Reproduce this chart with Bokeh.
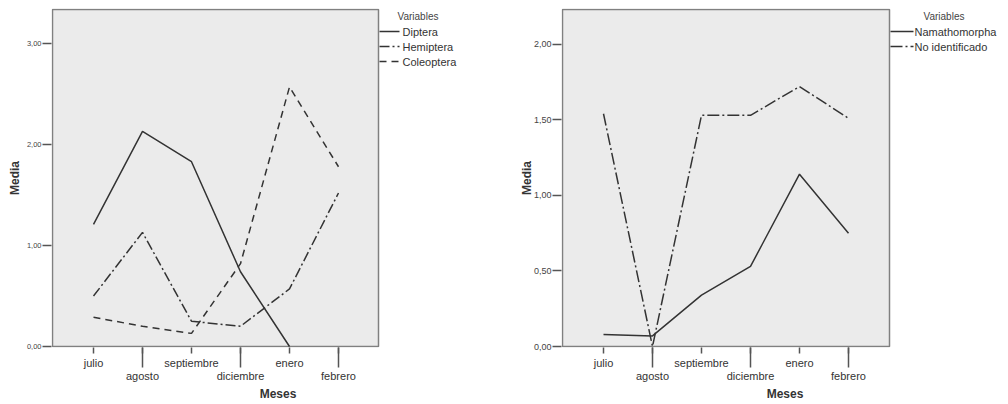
from bokeh.plotting import figure
from bokeh.layouts import row
from bokeh.models import Range1d, FixedTicker, Label, Arrow
from bokeh.embed import file_html
from bokeh.resources import INLINE

# ---------------- data ----------------
meses = ["julio", "agosto", "septiembre", "diciembre", "enero", "febrero"]

diptera = [1.21, 2.13, 1.83, 0.74, 0.00, float("nan")]
hemiptera = [0.50, 1.13, 0.25, 0.20, 0.57, 1.52]
coleoptera = [0.29, 0.20, 0.13, 0.82, 2.57, 1.78]

namathomorpha = [0.08, 0.07, 0.34, 0.53, 1.14, 0.75]
no_identificado = [1.54, 0.00, 1.53, 1.53, 1.72, 1.51]

left_yticks = [0, 1, 2, 3]
left_ylabels = ["0,00", "1,00", "2,00", "3,00"]
right_yticks = [0, 0.5, 1.0, 1.5, 2.0]
right_ylabels = ["0,00", "0,50", "1,00", "1,50", "2,00"]

left_series = [("Diptera", diptera, "solid"),
               ("Hemiptera", hemiptera, "10 3 2 3"),
               ("Coleoptera", coleoptera, "7 5")]
right_series = [("Namathomorpha", namathomorpha, "solid"),
                ("No identificado", no_identificado, "12 3 2 3")]

# ---------------- style / layout ----------------
FONT = "Liberation Sans"
LINE_COL = "#333333"
TEXT_COL = "#333333"
CAT_PX = 49.0      # pixels between categories
FIRST_PX = 41.0    # pixels from box left edge to first category
BOX_H = 337        # plot box height in px
PAD = 1            # frame padding around the plot box


def make_chart(width, box_left, box_w, ymax, yticks, ylabels, ytick_size,
               ylabel_standoff, series, line_end_px, text_px, title_px):
    frame_left = box_left - PAD
    frame_w = width - frame_left
    ppy = BOX_H / ymax

    def dx(px):  # px measured from box left edge
        return (px - FIRST_PX) / CAT_PX

    def dy(px):  # px measured up from box bottom edge
        return px / ppy

    p = figure(width=width, height=404,
               x_range=Range1d(dx(-PAD), dx(-PAD + frame_w)),
               y_range=Range1d(dy(-PAD), dy(BOX_H + PAD)),
               output_backend="svg", toolbar_location=None,
               min_border_left=frame_left, min_border_right=0,
               min_border_top=9 - PAD, min_border_bottom=404 - 346 - PAD,
               background_fill_color="white", border_fill_color="white",
               outline_line_color=None)
    p.grid.visible = False

    # grey plot box
    p.quad(left=dx(0), right=dx(box_w), bottom=0, top=ymax,
           fill_color="#ebebeb", line_color="#808080", line_width=1.5)

    xs = list(range(len(meses)))
    for name, vals, dash in series:
        p.line(xs, vals, line_color=LINE_COL, line_width=1.5, line_dash=dash)

    # x axis: staggered labels, long ticks on the lower row
    xa = p.xaxis[0]
    xa.ticker = FixedTicker(ticks=list(range(len(meses))), minor_ticks=[1, 3, 5])
    xa.major_label_overrides = {i: (m if i % 2 == 0 else "\n" + m)
                                for i, m in enumerate(meses)}
    xa.major_tick_in = 0
    xa.major_tick_out = 6
    xa.minor_tick_in = 0
    xa.minor_tick_out = 20
    xa.major_tick_line_color = "#555555"
    xa.minor_tick_line_color = "#555555"
    xa.major_tick_line_width = 1.5
    xa.minor_tick_line_width = 1.5
    xa.axis_line_color = None
    xa.major_label_standoff = -11
    xa.major_label_text_font = FONT
    xa.major_label_text_font_size = "11px"
    xa.major_label_text_line_height = 1.1
    xa.major_label_text_color = TEXT_COL
    xa.axis_label = "Meses"
    xa.axis_label_text_font = FONT
    xa.axis_label_text_font_size = "12px"
    xa.axis_label_text_font_style = "bold"
    xa.axis_label_text_color = TEXT_COL
    xa.axis_label_standoff = 2

    ya = p.yaxis[0]
    ya.ticker = FixedTicker(ticks=yticks, minor_ticks=[])
    ya.major_label_overrides = {t: l for t, l in zip(yticks, ylabels)}
    ya.major_tick_in = 0
    ya.major_tick_out = 9
    ya.major_tick_line_color = "#555555"
    ya.major_tick_line_width = 1.5
    ya.axis_line_color = None
    ya.major_label_standoff = 1
    ya.major_label_text_font = FONT
    ya.major_label_text_font_size = ytick_size
    ya.major_label_text_color = "#444444"
    ya.axis_label = "Media"
    ya.axis_label_text_font = FONT
    ya.axis_label_text_font_size = "12px"
    ya.axis_label_text_font_style = "bold"
    ya.axis_label_text_color = TEXT_COL
    ya.axis_label_standoff = ylabel_standoff

    # legend to the right of the box
    p.add_layout(Label(x=dx(title_px), y=dy(330), text="Variables",
                       text_baseline="middle", text_font=FONT,
                       text_font_size="10px", text_color="#444444"))
    for k, (name, vals, dash) in enumerate(series):
        yy = dy(315 - 15 * k)
        p.add_layout(Arrow(end=None, x_start=dx(box_w + 1), y_start=yy,
                           x_end=dx(line_end_px), y_end=yy,
                           line_color=LINE_COL, line_width=1.5,
                           line_dash=dash))
        p.add_layout(Label(x=dx(text_px), y=yy, text=name,
                           text_baseline="middle", text_font=FONT,
                           text_font_size="11px", text_color=TEXT_COL))
    return p


left = make_chart(504, 52, 326, 3.337, left_yticks, left_ylabels, "7.5px", 2,
                  left_series, 347, 350, 345)
right = make_chart(504, 58, 327, 2.23, right_yticks, right_ylabels, "9px", -3,
                   right_series, 351, 352, 361)

layout = row(left, right, spacing=0)
open("out.html", "w").write(file_html(layout, INLINE))
